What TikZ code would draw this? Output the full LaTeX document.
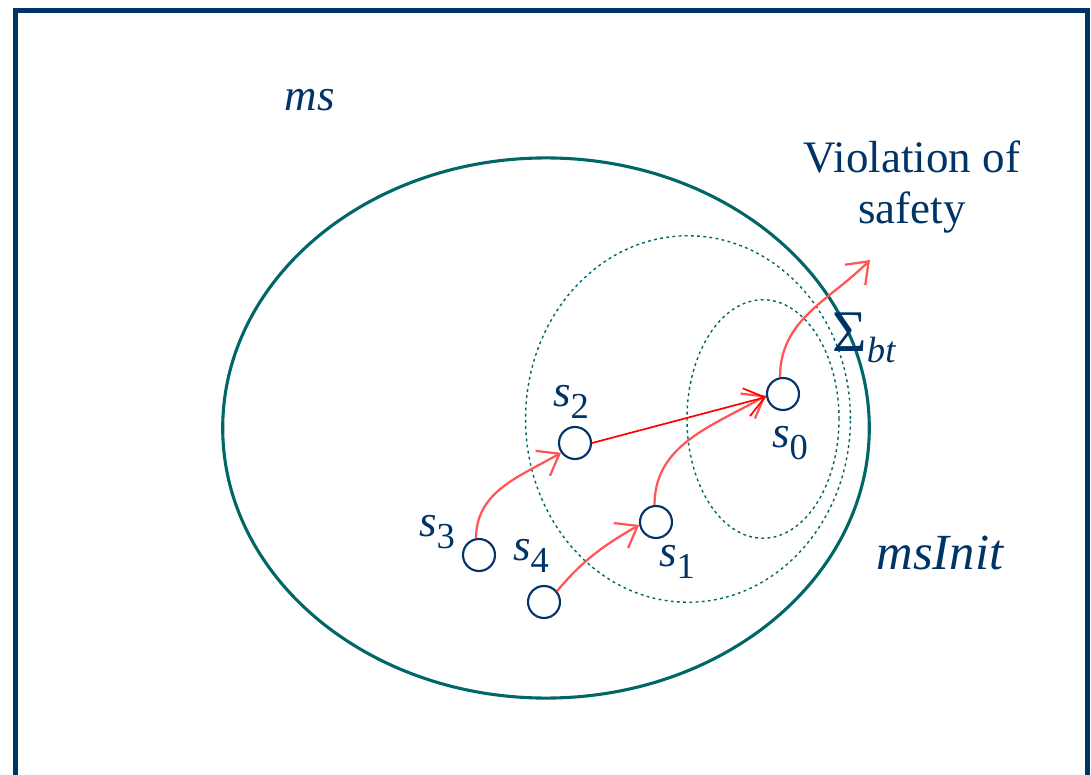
\documentclass[tikz,border=0pt]{standalone}
\usepackage{fontspec}
\setmainfont{Liberation Serif}
\usetikzlibrary{positioning,arrows.meta}
\definecolor{fignavy}{RGB}{0,51,102}
\definecolor{figteal}{RGB}{0,102,102}
\definecolor{figred}{RGB}{255,85,85}
\newcommand\sub[1]{\raisebox{-0.55ex}{\fontsize{13}{15}\selectfont #1}}
\tikzset{
  fig/.style={font=\fontsize{16}{18}\selectfont,text=fignavy},
  frame/.style={draw=fignavy,line width=1.8pt},
  region/.style={draw=figteal,line width=1.1pt},
  dotreg/.style={draw=figteal,line width=0.5pt,dash pattern=on 1pt off 1.2pt},
  state/.style={circle,draw=fignavy,line width=0.75pt,minimum size=4mm,inner sep=0pt},
  ln/.style={-{Straight Barb[length=2.4mm,width=3.6mm]},draw=figred,line width=0.8pt},
  lnr/.style={ln,draw=red,line width=0.6pt},
  lbl/.style={inner sep=1pt},
}
\begin{document}
\begin{tikzpicture}[fig,x=0.0125cm,y=-0.0125cm]
\useasboundingbox (0,0) rectangle (1091,775);
\clip (0,0) rectangle (1091,775);

% =======================  sets  =====================
\draw[frame] (15.5,10.5) rectangle (1087.5,800);
\draw[region] (546,428) ellipse [x radius=4.04cm,y radius=3.375cm];
\draw[dotreg] (688,419) ellipse [x radius=2.03cm,y radius=2.29cm];
\draw[dotreg] (763,419) ellipse [x radius=0.95cm,y radius=1.49cm];

\node[lbl,font=\fontsize{16}{18}\selectfont\itshape] (ms) at (310,100) {ms};
\node[lbl,font=\fontsize{18}{20}\selectfont\itshape] (msinit) at (940,553) {msInit};
\node[lbl,align=center] (viol) at (912,187) {Violation of\\safety};
\node[lbl] (sig) at (864,338) {{\fontsize{21}{22}\selectfont Σ}\sub{\itshape bt}};

% =======================  states  ====================
\node[state] (s0) at (783,394) {};
\node[state] (s1) at (656,522) {};
\node[state] (s2) at (575,443) {};
\node[state] (s3) at (479,555) {};
\node[state] (s4) at (544,602) {};

\node[lbl] at (790,443) {{\itshape s}\sub{0}};
\node[lbl] at (677,562) {{\itshape s}\sub{1}};
\node[lbl] at (571,402) {{\itshape s}\sub{2}};
\node[lbl] at (437,532) {{\itshape s}\sub{3}};
\node[lbl] at (531,556) {{\itshape s}\sub{4}};

% transitions
\coordinate (out) at (870,260);
\draw[ln] (s3.100) to[out=90,in=210] (s2.215);
\draw[ln] (s4.40) to[out=50,in=210] (s1.190);
\draw[ln] (s1.95) to[out=90,in=210] (s0.185);
\draw[lnr] (s2.east) -- (s0.190);
\draw[ln] (s0.100) to[out=90,in=225] (out);

\end{tikzpicture}
\end{document}
